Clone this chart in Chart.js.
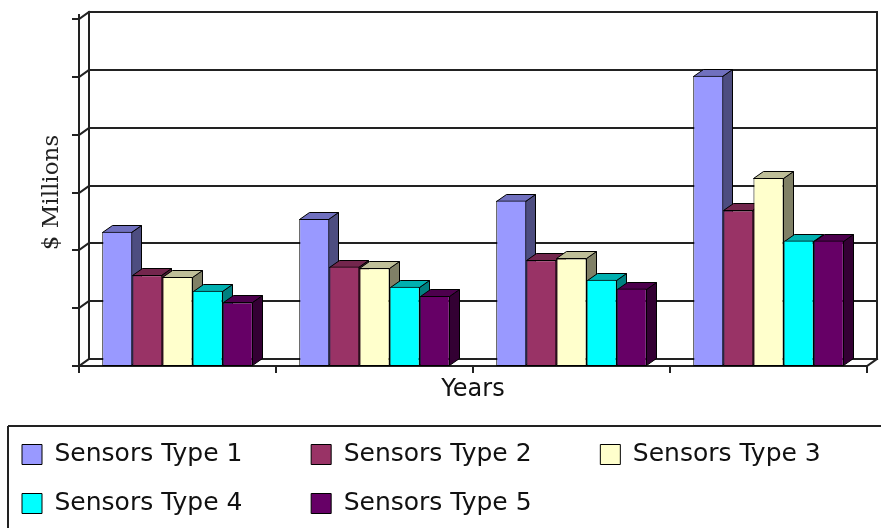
<!DOCTYPE html>
<html>
<head>
<meta charset="utf-8">
<script src="https://cdn.jsdelivr.net/npm/chart.js@4/dist/chart.umd.min.js"></script>
<style>
html,body{margin:0;padding:0;background:#fff;}
#wrap{width:881px;height:528px;position:relative;}
</style>
</head>
<body>
<div id="wrap"><canvas id="c" width="881" height="528"></canvas></div>
<script>
// ---- data ----
const categories = ['Year 1', 'Year 2', 'Year 3', 'Year 4'];
const seriesNames = ['Sensors Type 1', 'Sensors Type 2', 'Sensors Type 3', 'Sensors Type 4', 'Sensors Type 5'];
const type1 = [232, 254, 286, 502];
const type2 = [157, 172, 183, 269];
const type3 = [154, 169, 186, 325];
const type4 = [130, 137, 149, 217];
const type5 = [110, 121, 134, 217];
const yTicks = [0, 100, 200, 300, 400, 500, 600];

// ---- styles ----
const frontColors = ['#9999FF', '#993366', '#FFFFCC', '#00FFFF', '#660066'];
const sideColors  = ['#4D4D80', '#4D1A33', '#808066', '#008080', '#330033'];
const topColors   = ['#7070BF', '#73264D', '#BFBF99', '#00B0B0', '#4D004D'];
const DX = 10, DY = 7;
const LINE = '#222';

const seriesValues = [type1, type2, type3, type4, type5];

function line(ctx, x1, y1, x2, y2) {
  ctx.beginPath(); ctx.moveTo(x1, y1); ctx.lineTo(x2, y2); ctx.stroke();
}

const threeD = {
  id: 'threeD',
  afterLayout(chart) {
    const lg = chart.legend;
    if (lg) { lg.left -= 2; lg.top -= 2; lg.right = chart.width + 40; }
  },
  beforeDatasetsDraw(chart) {
    const ctx = chart.ctx;
    const {left, right} = chart.chartArea;
    const ys = chart.scales.y, xs = chart.scales.x;
    ctx.save();
    ctx.strokeStyle = LINE; ctx.lineWidth = 2; ctx.lineCap = 'square';
    yTicks.forEach(v => {
      const py = Math.round(ys.getPixelForValue(v));
      line(ctx, left + DX, py - DY, right + DX, py - DY);
      line(ctx, left - 6, py, left, py);
      line(ctx, left, py, left + DX, py - DY);
    });
    const t = Math.round(ys.getPixelForValue(yTicks[yTicks.length - 1]));
    const b = Math.round(ys.getPixelForValue(yTicks[0]));
    line(ctx, left + DX, t - DY, left + DX, b - DY);
    line(ctx, right + DX, t - DY, right + DX, b - DY);
    line(ctx, left, t - 4, left, b);
    line(ctx, left, b, right, b);
    line(ctx, right, b, right + DX, b - DY);
    const n = categories.length;
    for (let i = 0; i <= n; i++) {
      let bx;
      if (i === 0) bx = left;
      else if (i === n) bx = right;
      else bx = (xs.getPixelForValue(i - 1) + xs.getPixelForValue(i)) / 2;
      bx = Math.round(bx);
      line(ctx, bx, b, bx, b + 6);
    }
    ctx.restore();

    // side and top faces of every bar, left to right; fronts are drawn by Chart.js afterwards
    ctx.save();
    ctx.strokeStyle = '#000'; ctx.lineWidth = 1; ctx.lineJoin = 'miter';
    for (let i = 0; i < chart.data.datasets.length; i++) {
      const meta = chart.getDatasetMeta(i);
      meta.data.forEach(el => {
        const p = el.getProps(['x', 'y', 'base', 'width'], true);
        const l = Math.round(p.x - p.width / 2) + 0.5;
        const r = Math.round(p.x + p.width / 2) - 0.5;
        const tp = Math.round(p.y) + 0.5;
        const bs = Math.round(p.base) - 0.5;
        ctx.beginPath();
        ctx.moveTo(r, tp); ctx.lineTo(r + DX, tp - DY); ctx.lineTo(r + DX, bs - DY); ctx.lineTo(r, bs); ctx.closePath();
        ctx.fillStyle = sideColors[i]; ctx.fill(); ctx.stroke();
        ctx.beginPath();
        ctx.moveTo(l, tp); ctx.lineTo(l + DX, tp - DY); ctx.lineTo(r + DX, tp - DY); ctx.lineTo(r, tp); ctx.closePath();
        ctx.fillStyle = topColors[i]; ctx.fill(); ctx.stroke();
      });
    }
    ctx.restore();
  },
  afterDraw(chart) {
    const lg = chart.legend;
    if (!lg) return;
    const ctx = chart.ctx;
    const x0 = Math.round(lg.left + 10), y0 = Math.round(lg.top + 8);
    ctx.save();
    ctx.strokeStyle = LINE; ctx.lineWidth = 2;
    line(ctx, x0, y0, chart.width + 5, y0);
    line(ctx, x0, y0, x0, chart.height + 5);
    ctx.restore();
  }
};

const datasets = seriesNames.map((name, i) => ({
  label: name,
  data: seriesValues[i],
  backgroundColor: frontColors[i],
  borderColor: '#000',
  borderWidth: 1,
  borderSkipped: false
}));

new Chart(document.getElementById('c'), {
  type: 'bar',
  data: { labels: categories, datasets },
  plugins: [threeD],
  options: {
    responsive: false,
    devicePixelRatio: 1,
    animation: false,
    layout: { padding: { top: 19, right: 14, left: 0, bottom: 0 } },
    datasets: { bar: { categoryPercentage: 0.764, barPercentage: 1.0 } },
    scales: {
      x: {
        type: 'category',
        ticks: { display: false },
        grid: { display: false },
        border: { display: false },
        title: { display: true, text: 'Years', color: '#111',
                 font: { family: 'DejaVu Sans', size: 24 }, padding: { top: 0, bottom: 15.6 } },
        afterFit(s) { s.height = 54; }
      },
      y: {
        min: 0, max: 600,
        ticks: { display: false, stepSize: 100 },
        grid: { display: false },
        border: { display: false },
        title: { display: true, text: '$ Millions', color: '#222',
                 font: { family: 'DejaVu Serif', size: 23 }, padding: { top: 38, bottom: 0 } },
        afterFit(s) { s.width = 79; }
      }
    },
    plugins: {
      tooltip: { enabled: false },
      legend: {
        position: 'bottom',
        align: 'start',
        maxHeight: 108,
        labels: {
          font: { family: 'DejaVu Sans', size: 25 },
          color: '#111',
          boxWidth: 20,
          boxHeight: 20,
          padding: 24,
          generateLabels(chart) {
            const items = Chart.defaults.plugins.legend.labels.generateLabels(chart);
            return items.map(it => Object.assign(it, { text: it.text + '     \u2009', lineWidth: 1, strokeStyle: '#000' }));
          }
        }
      }
    }
  }
});
</script>
</body>
</html>
